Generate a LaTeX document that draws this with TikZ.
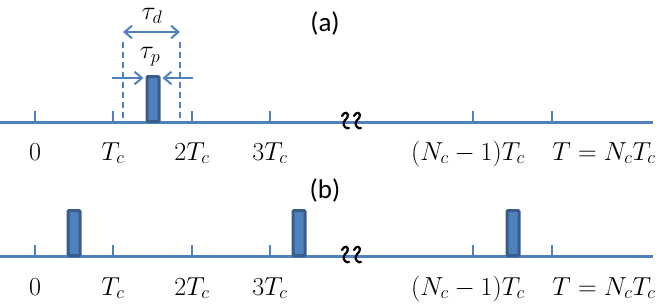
\RequirePackage{fix-cm}
\documentclass[tikz,border=0pt]{standalone}
\usepackage{fontspec}
\setsansfont{Carlito}
\usetikzlibrary{arrows.meta,positioning,calc}
\definecolor{offblue}{HTML}{4F81BD}
\definecolor{offnavy}{HTML}{385D8A}
\tikzset{
  >={Straight Barb[length=2.6mm,width=4.4mm]},
  % tidsaxlar
  ax/.style={draw=offblue,line width=3pt},
  tk/.style={draw=offblue,line width=2pt},
  pls/.style={draw=offnavy,fill=offblue,line width=3pt,rounded corners=1pt,
              minimum width=12pt,minimum height=45pt,inner sep=0pt},
  lbl/.style={font=\fontsize{26}{30}\selectfont,inner sep=0pt,anchor=base},
  tag/.style={font=\sffamily\fontsize{27}{32}\selectfont,inner sep=0pt},
  brk/.style={draw=black,line width=2.2pt,line cap=round},
  % mått
  dimln/.style={draw=offblue,line width=2pt,dash pattern=on 6pt off 4pt},
  dimar/.style={draw=offblue,line width=2pt},
}

\begin{document}
\begin{tikzpicture}[x=1pt,y=-1pt]
\useasboundingbox (0,0) rectangle (664,306);
  % (a)
  \node[tag] (ta) at (325,23) {(a)};
  \coordinate (a0) at (0,122);
  \coordinate (a1) at (653,122);
  \draw[ax] (a0) -- (a1);
  \foreach \x/\n in {35/0,113/1,192/2,270/3,473/4,552/5}
    \draw[tk] (\x,122) coordinate (ka\n) -- ++(0,-11);
  \foreach \n/\t in {0/0,1/T_c,2/2T_c,3/3T_c}
    \node[lbl] (la\n) at ($(ka\n)+(0,38)$) {$\t$};
  \node[lbl] (la4) at (468,160) {$(N_c-1)T_c$};
  \node[lbl] (la5) at (604,160) {$T=N_cT_c$};
  \node[pls,anchor=south] (pa) at (153,123) {};
  \coordinate (dl) at (123,42);
  \coordinate (dr) at (180,42);
  \draw[dimln] (dl) -- (dl |- a0);
  \draw[dimln] (dr) -- (dr |- a0);
  \coordinate (tl) at (123,32);
  \coordinate (tr) at (180,32);
  \draw[dimar,<->] (tl) -- (tr);
  \node[lbl,anchor=center] (td) at (152,16) {$\tau_d$};
  \node[lbl,anchor=center] (tp) at (150,57) {$\tau_p$};
  \coordinate (pl) at (112,78);
  \coordinate (pr) at (193,78);
  \draw[dimar,->] (pl) -- ($(pl -| pa.west)+(-2,0)$);
  \draw[dimar,->] (pr) -- ($(pr -| pa.east)+(2,0)$);
  \foreach \x in {346,358}
    \draw[brk] (\x-4,116) .. controls (\x-2,111) and (\x+4,112) .. (\x+1,118)
               .. controls (\x-2,121) and (\x-4,124) .. (\x-1,127)
               .. controls (\x,128) and (\x+2,129) .. (\x+3,128);
  % (b)
  \node[tag] (tb) at (325,190) {(b)};
  \coordinate (b0) at (0,256);
  \coordinate (b1) at (653,256);
  \draw[ax] (b0) -- (b1);
  \foreach \x/\n in {35/0,113/1,192/2,270/3,473/4,552/5}
    \draw[tk] (\x,256) coordinate (kb\n) -- ++(0,-11);
  \foreach \n/\t in {0/0,1/T_c,2/2T_c,3/3T_c}
    \node[lbl] (lb\n) at ($(kb\n)+(0,39)$) {$\t$};
  \node[lbl] (lb4) at (468,295) {$(N_c-1)T_c$};
  \node[lbl] (lb5) at (604,295) {$T=N_cT_c$};
  \foreach \x/\n in {74/1,299/2,513/3}
    \node[pls,anchor=south] (pb\n) at (\x,257) {};
  \foreach \x in {346,358}
    \draw[brk] (\x-4,250) .. controls (\x-2,245) and (\x+4,246) .. (\x+1,252)
               .. controls (\x-2,255) and (\x-4,258) .. (\x-1,261)
               .. controls (\x,262) and (\x+2,263) .. (\x+3,262);
\end{tikzpicture}
\end{document}
